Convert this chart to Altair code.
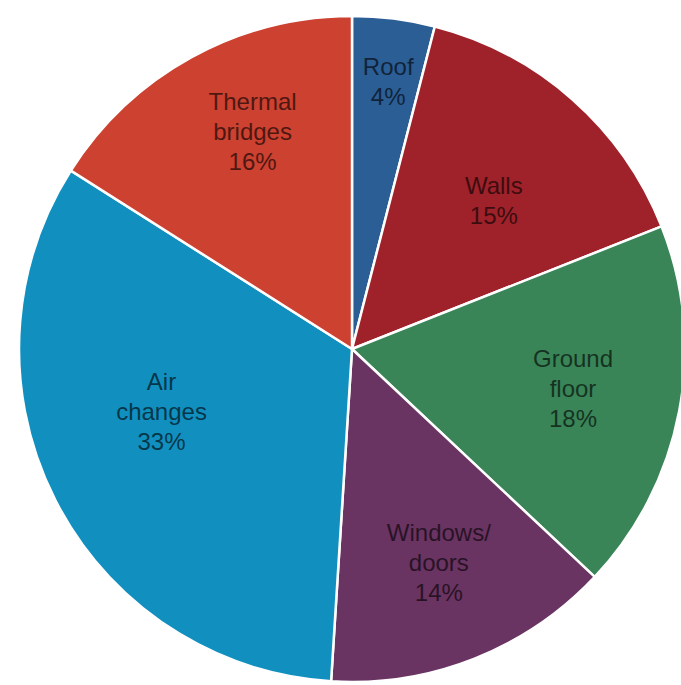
import altair as alt
import pandas as pd

categories = ["Roof", "Walls", "Ground floor", "Windows/doors", "Air changes", "Thermal bridges"]
label_lines = [["Roof"], ["Walls"], ["Ground", "floor"], ["Windows/", "doors"], ["Air", "changes"], ["Thermal", "bridges"]]
values = [4, 15, 18, 14, 33, 16]
colors = ["#2c5e96", "#9f222a", "#3a8558", "#6a3462", "#1190c0", "#cd4130"]

# label nudges (pixels) relative to the mid-angle anchor
nudges = {
    "Roof": (8, -58),
    "Walls": (-7, 7),
    "Ground floor": (0, -31),
    "Windows/doors": (4, -24),
    "Air changes": (10, -68),
    "Thermal bridges": (9, -49),
}

df = pd.DataFrame({
    "category": categories,
    "value": values,
    "order": list(range(len(categories))),
    "label": [lines + [f"{v}%"] for lines, v in zip(label_lines, values)],
})

cx, cy, r = 352, 349, 333

base = alt.Chart(df).encode(
    theta=alt.Theta("value:Q", stack=True),
    order=alt.Order("order:Q"),
    x=alt.value(cx),
    y=alt.value(cy),
)

arcs = base.mark_arc(outerRadius=r, stroke="white", strokeWidth=2.5).encode(
    color=alt.Color("category:N", scale=alt.Scale(domain=categories, range=colors), legend=None)
)

layers = [arcs]
for cat in categories:
    ddx, ddy = nudges[cat]
    layers.append(
        base.mark_text(
            radius=225, dx=ddx, dy=ddy, font="Liberation Sans", fontSize=24, lineHeight=30,
            color="black", opacity=0.62, align="center", baseline="middle"
        ).encode(
            text=alt.condition(alt.datum.category == cat, "label", alt.value(""))
        )
    )

chart = alt.layer(*layers).properties(
    width=681, height=685, padding=0, autosize=alt.AutoSizeParams(type="none")
).configure_view(stroke=None)

chart.save("out.html", embed_options={"renderer": "svg", "actions": False})
